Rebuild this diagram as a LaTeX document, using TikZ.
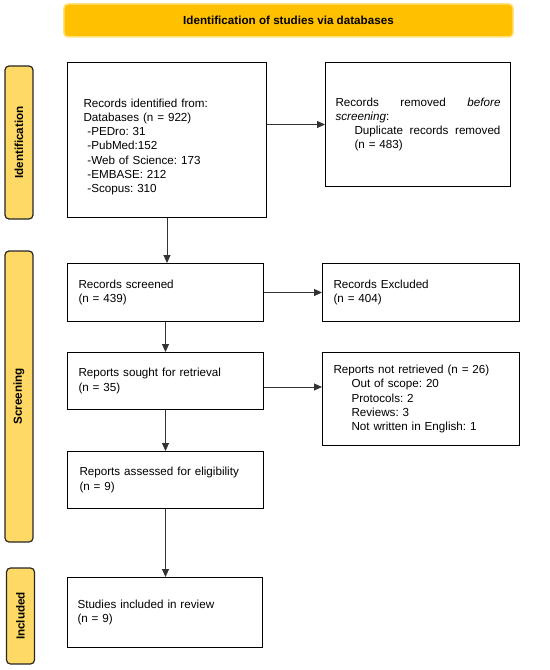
\documentclass[tikz,border=0pt]{standalone}
\usepackage{fontspec}
\setmainfont{Liberation Sans}
\usepackage{xcolor}
\usetikzlibrary{arrows.meta}

\definecolor{bannergold}{HTML}{FFC000}
\definecolor{bannerrim}{HTML}{FFE27A}
\definecolor{sidegold}{HTML}{FFD966}

\tikzset{
    rec/.style={draw, line width=1bp, anchor=north west, align=left, inner ysep=0pt,
        font=\fontsize{11.7}{14.3}\selectfont\frenchspacing},
    phase/.style={draw=black!85, fill=sidegold, line width=1.2bp, rounded corners=4bp,
        rotate=90, minimum height=28bp, inner sep=0pt,
        font=\fontsize{11.7}{14}\selectfont\bfseries},
    flow/.style={line width=0.9bp, draw=black!80, -{Triangle[length=8bp,width=7bp]}}
}

\begin{document}
\begin{tikzpicture}[x=1bp, y=-1bp]
    \useasboundingbox (0,0) rectangle (550,670);

    % banner on top
    \node [draw=bannerrim, fill=bannergold, line width=1.5bp, rounded corners=4bp,
        minimum width=449bp, minimum height=33bp, font=\fontsize{11.7}{14}\selectfont\bfseries]
        (banner) at (288.5,20.5) {Identification of studies via databases};

    % phases on the left
    \node [phase, minimum width=153bp] (idphase) at (19,142.5) {Identification};
    \node [phase, minimum width=291bp] (scrphase) at (19,396.5) {Screening};
    \node [phase, minimum width=96bp] (incphase) at (20.5,616) {Included};

    % boxes
    \node [rec, text width=167bp, inner xsep=16bp, minimum height=155bp] (ident) at (67,62)
        {\rule{0pt}{22bp}Records identified from:\\ Databases (n = 922)\\ \ -PEDro: 31\\ \ -PubMed:152\\
         \ -Web of Science: 173\\ \ -EMBASE: 212\\ \ -Scopus: 310};
    \node [rec, text width=165bp, inner xsep=10bp, minimum height=124bp] (removed) at (325,62)
        {Records\hfill removed\hfill \textit{before}\\ \textit{screening}:\\
         \hspace*{19bp}Duplicate\hfill records\hfill removed\\ \hspace*{19bp}(n = 483)};

    \node [rec, text width=174bp, inner xsep=11bp, minimum height=58bp] (screened) at (67,263)
        {Records screened\\ (n = 439)};
    \node [rec, text width=175bp, inner xsep=11bp, minimum height=58bp] (excluded) at (322,263)
        {Records Excluded\\ (n = 404)};

    \node [rec, text width=174bp, inner xsep=11bp, minimum height=57bp] (sought) at (67,352)
        {Reports sought for retrieval\\ (n = 35)};
    \node [rec, text width=175bp, inner xsep=11bp, minimum height=93bp] (notret) at (322,352)
        {Reports not retrieved (n = 26)\\ \hspace*{18bp}Out of scope: 20\\ \hspace*{18bp}Protocols: 2\\
         \hspace*{18bp}Reviews: 3\\ \hspace*{18bp}Not written in English: 1};

    \node [rec, text width=172bp, inner xsep=12bp, minimum height=57bp] (assessed) at (67,451)
        {Reports assessed for eligibility\\ (n = 9)};

    \node [rec, text width=175bp, inner xsep=10bp, minimum height=70bp] (included) at (67,577)
        {Studies included in review\\ (n = 9)};

    % arrows
    \draw [flow] (ident.south) -- (ident.south |- screened.north);
    \draw [flow] (screened.south) -- (sought.north);
    \draw [flow] (sought.south) -- (assessed.north);
    \draw [flow] (assessed.south) -- (assessed.south |- included.north);

    \draw [flow] (removed.west -| ident.east) -- (removed.west);
    \draw [flow] (screened.east) -- (excluded.west);
    \draw [flow] ([yshift=-6bp]sought.east) -- ([yshift=-6bp]sought.east -| notret.west);
\end{tikzpicture}
\end{document}
